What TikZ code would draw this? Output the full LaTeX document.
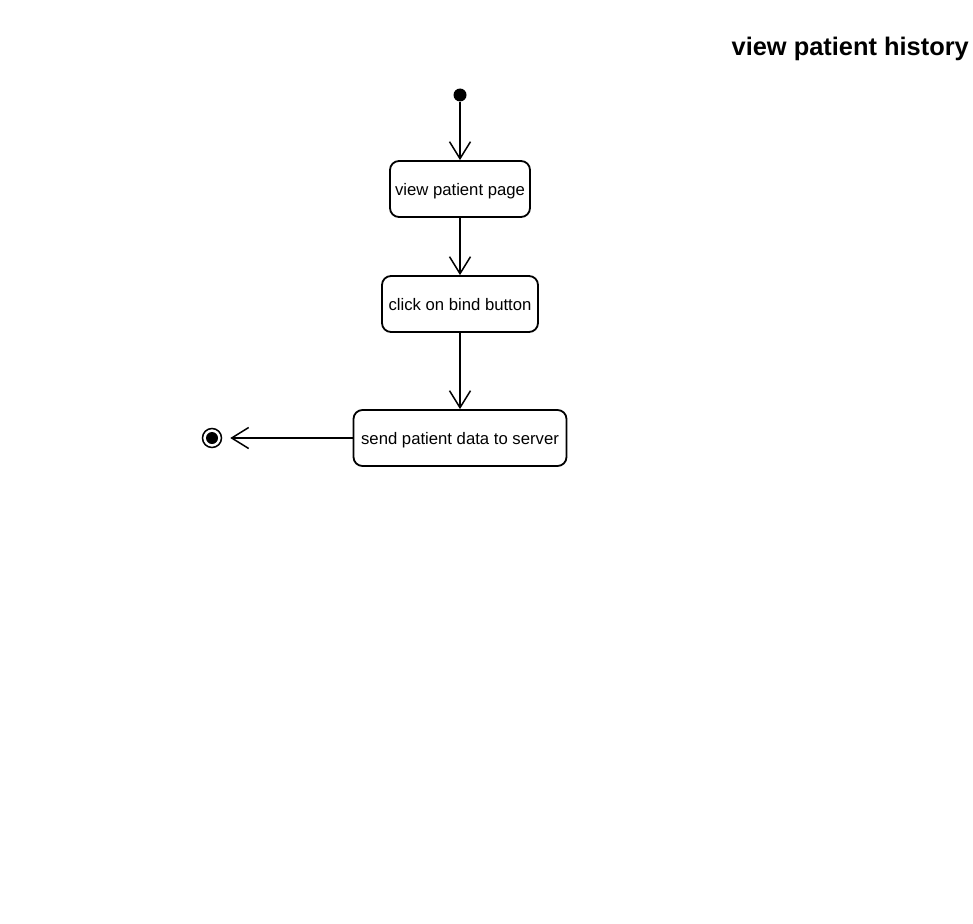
\documentclass[tikz,border=0pt]{standalone}
\usepackage{fontspec}
\setmainfont{Liberation Sans}
\usetikzlibrary{arrows.meta}
\begin{document}
\begin{tikzpicture}[x=1pt,y=-1pt,
  state/.style={draw,line width=1.8pt,rounded corners=9pt,inner sep=0pt,text depth=0pt,font=\fontsize{16.7}{18}\selectfont},
  flow/.style={line width=1.8pt,-{Straight Barb[length=17pt,width=21pt,line width=1.5pt]}}]
\useasboundingbox (0,0) rectangle (973,923);
\node[font=\bfseries\fontsize{25.4}{28}\selectfont,anchor=east,inner sep=0pt] (title) at (969,49) {view patient history};
\node[circle,fill=black,minimum size=13pt,inner sep=0pt] (init) at (460,95) {};
\node[state,minimum width=140pt,minimum height=56pt] (s1) at (460,189) {view patient page};
\node[state,minimum width=156pt,minimum height=56pt] (s2) at (460,304) {click on bind button};
\node[state,minimum width=213pt,minimum height=56pt] (s3) at (460,438) {send patient data to server};
\node[circle,draw,line width=1.5pt,minimum size=19pt,inner sep=0pt] (fin) at (212,438) {};
\node[circle,fill=black,minimum size=12pt,inner sep=0pt] at (fin) {};
\draw[flow] (init) -- (s1);
\draw[flow] (s1) -- (s2);
\draw[flow] (s2) -- (s3);
\draw[flow,shorten >=8pt] (s3) -- (fin);
\end{tikzpicture}
\end{document}
